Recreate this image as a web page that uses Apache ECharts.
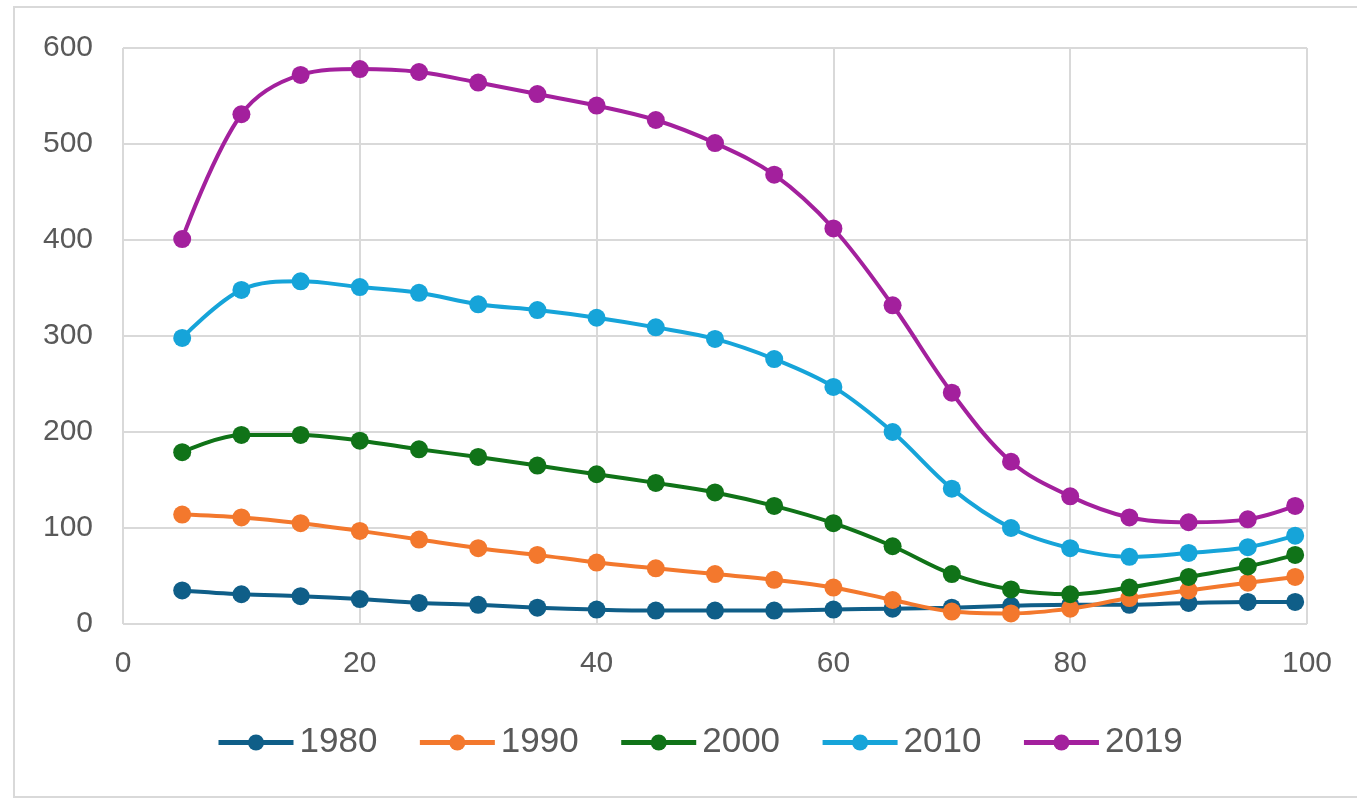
<!DOCTYPE html>
<html>
<head>
<meta charset="utf-8">
<script src="https://cdn.jsdelivr.net/npm/echarts@6/dist/echarts.min.js"></script>
<style>
html,body{margin:0;padding:0;background:#fff;}
#chart{width:1357px;height:801px;}
</style>
</head>
<body>
<div id="chart"></div>
<script>
var xs = [5,10,15,20,25,30,35,40,45,50,55,60,65,70,75,80,85,90,95,99];
var seriesNames = ['1980','1990','2000','2010','2019'];
var s1980 = [35,31,29,26,22,20,17,15,14,14,14,15,16,17,19,20,20,22,23,23];
var s1990 = [114,111,105,97,88,79,72,64,58,52,46,38,25,13,11,16,27,35,43,49];
var s2000 = [179,197,197,191,182,174,165,156,147,137,123,105,81,52,36,31,38,49,60,72];
var s2010 = [298,348,357,351,345,333,327,319,309,297,276,247,200,141,100,79,70,74,80,92];
var s2019 = [401,531,572,578,575,564,552,540,525,501,468,412,332,241,169,133,111,106,109,123];
var colors = ['#0f5e88','#f3782d','#107318','#16a4d9','#a3209d'];

var allData = [s1980,s1990,s2000,s2010,s2019];
function pairs(arr){ return xs.map(function(x,i){ return [x, arr[i]]; }); }

var chart = echarts.init(document.getElementById('chart'), null, {renderer:'canvas'});
var option = {
  animation: false,
  backgroundColor: '#ffffff',
  graphic: [{
    type: 'rect',
    shape: {x: 14, y: 7, width: 1360, height: 790},
    style: {fill: 'none', stroke: '#d9d9d9', lineWidth: 2},
    silent: true, z: -1
  }],
  grid: {left: 123, right: 50, top: 48, bottom: 177, containLabel: false},
  xAxis: {
    type: 'value', min: 0, max: 100, interval: 20,
    axisLine: {show: false},
    axisTick: {show: false},
    splitLine: {show: true, lineStyle: {color: '#d9d9d9', width: 2}},
    axisLabel: {color: '#595959', fontSize: 30, fontFamily: 'Liberation Sans, Arial, sans-serif', margin: 25}
  },
  yAxis: {
    type: 'value', min: 0, max: 600, interval: 100,
    axisLine: {show: false},
    axisTick: {show: false},
    splitLine: {show: true, lineStyle: {color: '#d9d9d9', width: 2}},
    axisLabel: {color: '#595959', fontSize: 30, fontFamily: 'Liberation Sans, Arial, sans-serif', margin: 30}
  },
  legend: {
    bottom: 36,
    left: 211,
    itemWidth: 75,
    itemHeight: 20,
    itemGap: 40,
    lineStyle: {width: 5},
    textStyle: {color: '#595959', fontSize: 35, fontFamily: 'Liberation Sans, Arial, sans-serif', padding: [0,0,0,1]},
    data: seriesNames
  },
  series: seriesNames.map(function(n, i){
    return {
      name: n, type: 'line', smooth: 0.35,
      data: pairs(allData[i]),
      symbol: 'circle', symbolSize: 18,
      lineStyle: {color: colors[i], width: 4},
      itemStyle: {color: colors[i]},
      z: 2 + i
    };
  })
};
chart.setOption(option);
</script>
</body>
</html>
